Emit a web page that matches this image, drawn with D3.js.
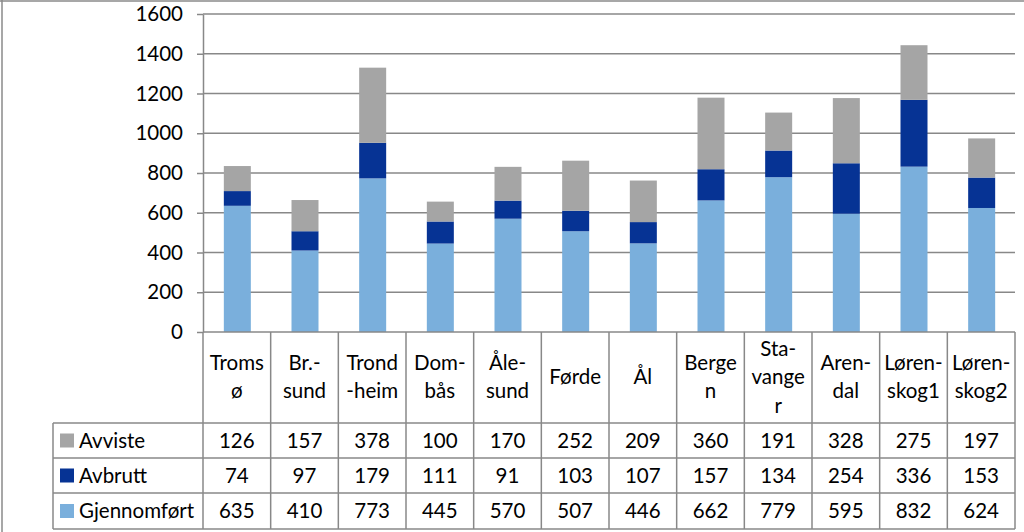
<!DOCTYPE html>
<html><head><meta charset="utf-8">
<script src="https://cdn.jsdelivr.net/npm/d3@7"></script>
<style>body{margin:0;background:#fff}svg{display:block}text{font-family:Lato,"Open Sans",sans-serif}</style>
</head><body><svg id="c" width="1024" height="532"></svg>
<script>
const categories = ["Tromsø","Br.-sund","Trond-heim","Dom-bås","Åle-sund","Førde","Ål","Bergen","Sta-vanger","Aren-dal","Løren-skog1","Løren-skog2"];
const categoryLines = [["Troms","ø"],["Br.-","sund"],["Trond","-heim"],["Dom-","bås"],["Åle-","sund"],["Førde"],["Ål"],["Berge","n"],["Sta-","vange","r"],["Aren-","dal"],["Løren-","skog1"],["Løren-","skog2"]];
const gjennomfort = [635,410,773,445,570,507,446,662,779,595,832,624];
const avbrutt = [74,97,179,111,91,103,107,157,134,254,336,153];
const avviste = [126,157,378,100,170,252,209,360,191,328,275,197];
const seriesNames = ["Gjennomført","Avbrutt","Avviste"];
const seriesColors = ["#7aafdc","#063394","#a5a5a5"];
const yTicks = [0,200,400,600,800,1000,1200,1400,1600];

(function(){
const svg = d3.select("#c");
const W=1024,H=532;
const pLeft=203,pRight=1015,pTop=14,pBottom=332;
const gridColor="#888";
const fs=20.5;

// outer frame (only top & left visible)
svg.append("line").attr("x1",0).attr("x2",W).attr("y1",1).attr("y2",1).attr("stroke","#8a8a8a").attr("stroke-width",1.5);
svg.append("line").attr("x1",2).attr("x2",2).attr("y1",0).attr("y2",H).attr("stroke","#8a8a8a").attr("stroke-width",1.5);

const x = d3.scaleBand().domain(categories).range([pLeft,pRight]).paddingInner(0).paddingOuter(0);
const y = d3.scaleLinear().domain([0,1600]).range([pBottom,pTop]);

svg.append("g").selectAll("line").data(yTicks.filter(d=>d>0)).join("line")
  .attr("x1",pLeft).attr("x2",pRight).attr("y1",d=>y(d)).attr("y2",d=>y(d))
  .attr("stroke",gridColor).attr("stroke-width",1.5);

const yAxis = d3.axisLeft(y).tickValues(yTicks).tickFormat(d3.format("d")).tickSize(6).tickPadding(14).tickSizeOuter(0);
const ga = svg.append("g").attr("transform",`translate(${pLeft},0)`).call(yAxis);
ga.select(".domain").attr("stroke",gridColor).attr("stroke-width",1.5);
ga.selectAll(".tick line").attr("stroke",gridColor).attr("stroke-width",1.5);
ga.selectAll(".tick text").attr("font-size",fs).attr("fill","#000").style("font-family","Lato,'Open Sans',sans-serif");

const rows = categories.map((c,i)=>({cat:c,"Gjennomført":gjennomfort[i],"Avbrutt":avbrutt[i],"Avviste":avviste[i]}));
const stack = d3.stack().keys(seriesNames)(rows);
const bw = 27;
svg.append("g").selectAll("g").data(stack).join("g").attr("fill",(d,i)=>seriesColors[i])
  .selectAll("rect").data(d=>d).join("rect")
  .attr("x",d=>x(d.data.cat)+x.bandwidth()/2-bw/2+0.5).attr("width",bw)
  .attr("y",d=>y(d[1])).attr("height",d=>y(d[0])-y(d[1]));

svg.append("line").attr("x1",pLeft).attr("x2",pRight).attr("y1",pBottom).attr("y2",pBottom).attr("stroke",gridColor).attr("stroke-width",1.5);

const legendLeft=53;
const rowEdges=[423,458,493,529];
const tg = svg.append("g");
const lineAttr = s=>s.attr("stroke",gridColor).attr("stroke-width",1.5);
x.domain().forEach((c)=>{
  lineAttr(tg.append("line").attr("x1",x(c)).attr("x2",x(c)).attr("y1",pBottom).attr("y2",rowEdges[3]));
});
lineAttr(tg.append("line").attr("x1",pRight).attr("x2",pRight).attr("y1",pBottom).attr("y2",rowEdges[3]));
lineAttr(tg.append("line").attr("x1",legendLeft).attr("x2",legendLeft).attr("y1",rowEdges[0]).attr("y2",rowEdges[3]));
rowEdges.forEach(e=>lineAttr(tg.append("line").attr("x1",legendLeft).attr("x2",pRight).attr("y1",e).attr("y2",e)));

const lh=28.5, hc=377;
categories.forEach((c,i)=>{
  const lines=categoryLines[i];
  const t=tg.append("text").attr("text-anchor","middle").attr("font-size",fs).attr("fill","#000");
  lines.forEach((l,j)=>{
    t.append("tspan").attr("x",x(c)+x.bandwidth()/2).attr("y",hc+(j-(lines.length-1)/2)*lh).attr("dy","0.35em").text(l);
  });
});

const tableRows=[{name:"Avviste",vals:avviste,color:seriesColors[2]},{name:"Avbrutt",vals:avbrutt,color:seriesColors[1]},{name:"Gjennomført",vals:gjennomfort,color:seriesColors[0]}];
tableRows.forEach((r,k)=>{
  const cy=(rowEdges[k]+rowEdges[k+1])/2;
  tg.append("rect").attr("x",60).attr("y",cy-7).attr("width",14).attr("height",14).attr("fill",r.color);
  tg.append("text").attr("x",79).attr("y",cy).attr("dy","0.35em").attr("font-size",fs).attr("fill","#000").text(r.name);
  r.vals.forEach((v,i)=>{
    tg.append("text").attr("x",x(categories[i])+x.bandwidth()/2).attr("y",cy).attr("dy","0.35em")
      .attr("text-anchor","middle").attr("font-size",fs).attr("fill","#000").text(v);
  });
});
})();
</script></body></html>
